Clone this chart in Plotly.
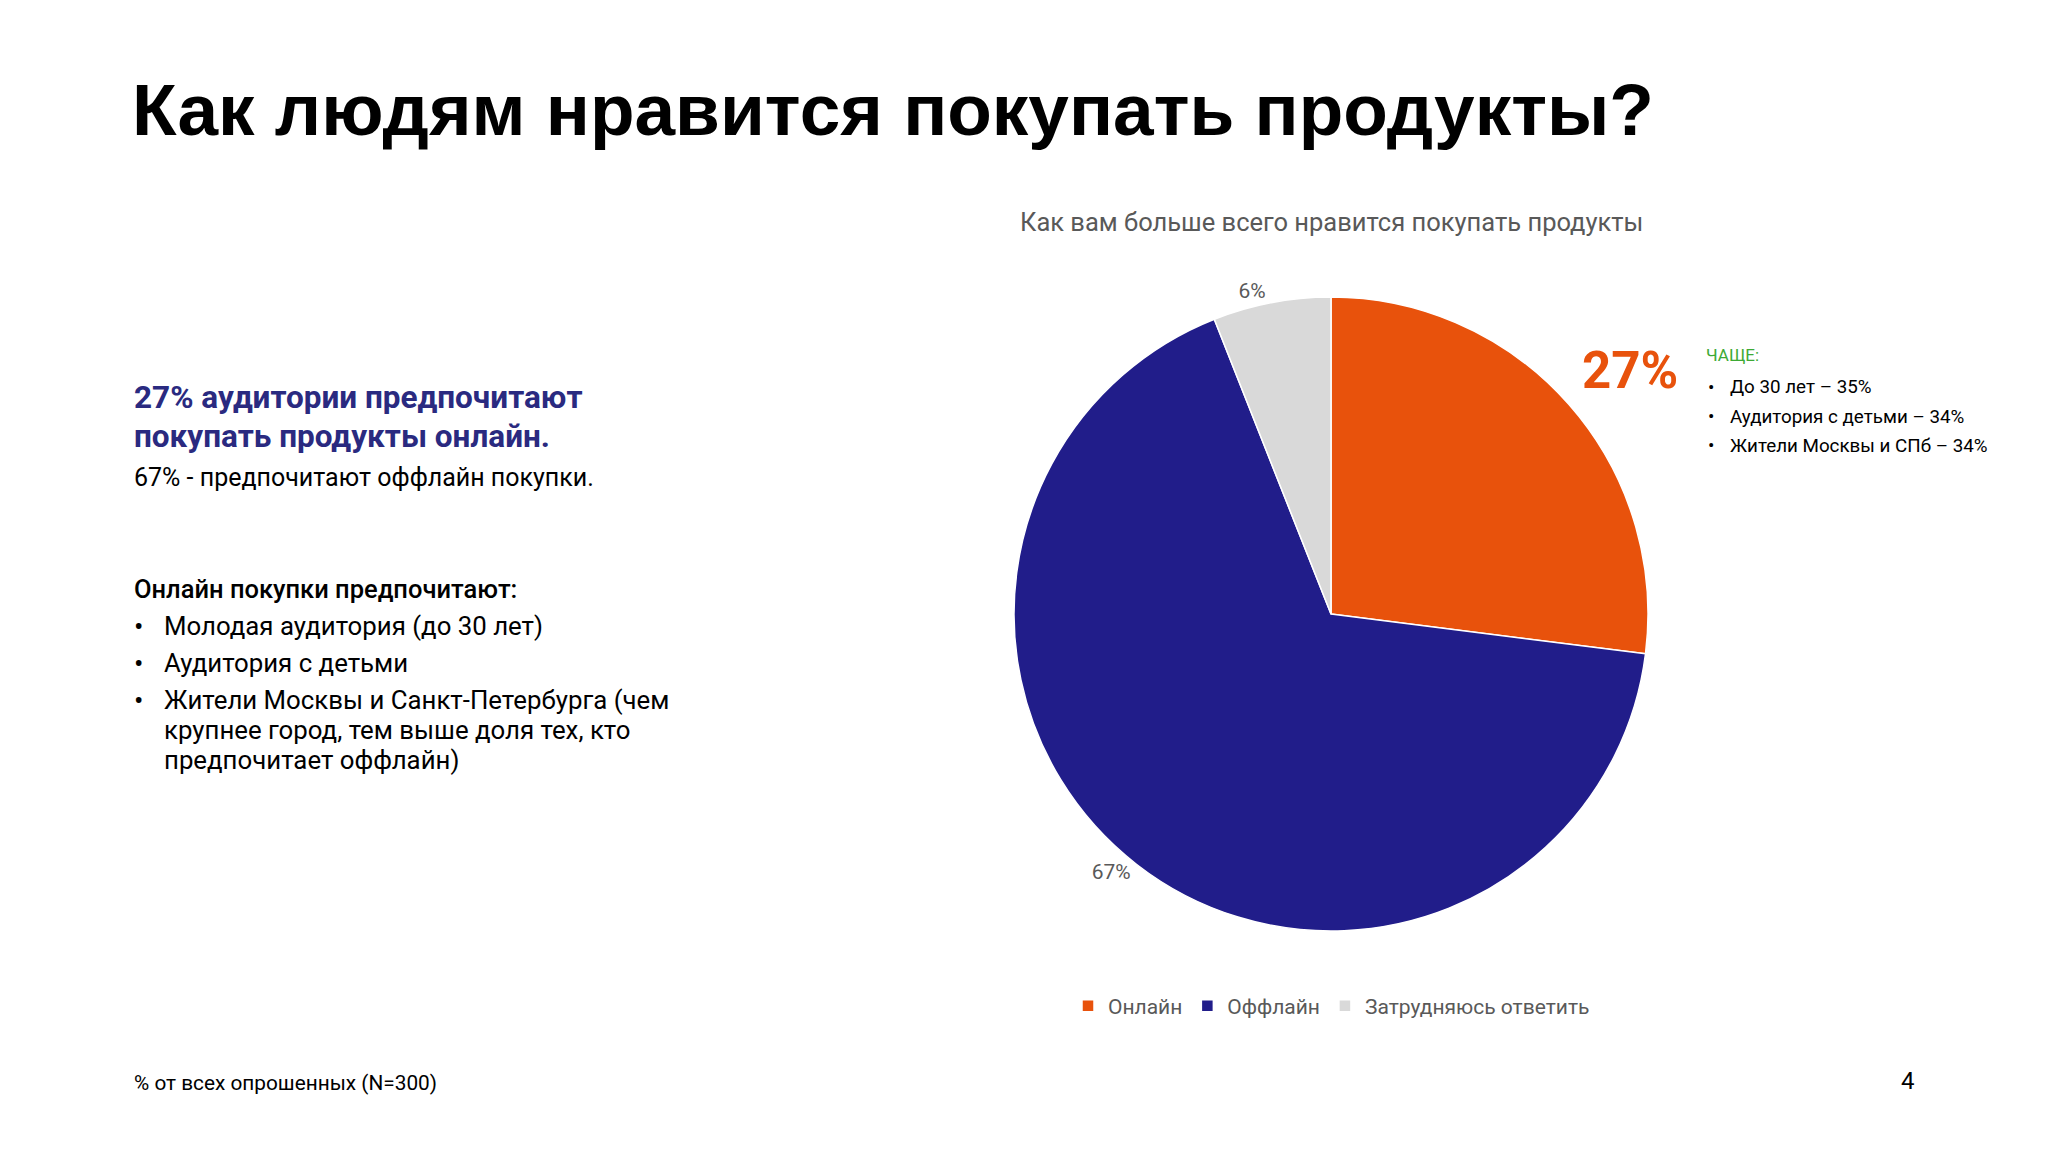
import plotly.graph_objects as go

W, H = 2048, 1152

# ---- data ----
categories = ["Онлайн", "Оффлайн", "Затрудняюсь ответить"]
values = [27, 67, 6]
colors = ["#E8520C", "#211D8A", "#D9D9D9"]
slice_labels = ["", f"{values[1]}%", f"{values[2]}%"]

title_text = "Как людям нравится покупать продукты?"
chart_title = "Как вам больше всего нравится покупать продукты"
highlight_lines = ["27% аудитории предпочитают", "покупать продукты онлайн."]
sub_line = "67% - предпочитают оффлайн покупки."
online_head = "Онлайн покупки предпочитают:"
online_bullets = [
    ["Молодая аудитория (до 30 лет)"],
    ["Аудитория с детьми"],
    ["Жители Москвы и Санкт-Петербурга (чем", "крупнее город, тем выше доля тех, кто", "предпочитает оффлайн)"],
]
more_head = "ЧАЩЕ:"
more_items = ["До 30 лет – 35%", "Аудитория с детьми – 34%", "Жители Москвы и СПб – 34%"]
footnote = "% от всех опрошенных (N=300)"
page_no = "4"

FONT = "Roboto, 'Open Sans', 'Noto Sans', sans-serif"
GRAY = "#595959"
OFF = 8  # page body margin


def px(x):
    return (x - OFF) / W


def py(y):
    return 1 - (y - OFF) / H


fig = go.Figure()

cx, cy, r = 1331, 614, 317
fig.add_trace(go.Pie(
    labels=categories,
    values=values,
    text=slice_labels,
    textinfo="text",
    textposition="outside",
    textfont=dict(family=FONT, size=21, color=GRAY),
    marker=dict(colors=colors, line=dict(color="white", width=1.5)),
    sort=False,
    direction="clockwise",
    rotation=0,
    hole=0,
    domain=dict(x=[px(cx - r), px(cx + r)], y=[py(cy + r), py(cy - r)]),
    showlegend=True,
))

ann = []


def add(text, x, y, size, color="black", weight="normal", xanchor="left", family=FONT):
    ann.append(dict(
        text=text, x=px(x), y=py(y), xref="paper", yref="paper",
        xanchor=xanchor, yanchor="middle", showarrow=False,
        font=dict(family=family, size=size, color=color, weight=weight),
    ))


# main title
add(title_text, 130, 110, 73, weight="bold",
    family="'Liberation Sans Narrow', 'Liberation Sans', Arial, sans-serif")

# chart title
add(chart_title, 1331, 222, 25.5, color=GRAY, xanchor="center")

# left text block
add(highlight_lines[0], 132, 397, 31.5, color="#2A2A80", weight="bold")
add(highlight_lines[1], 132, 437, 31.5, color="#2A2A80", weight="bold")
add(sub_line, 132, 477, 25)
add(online_head, 132, 589, 25.5, weight=500)

y = 626
for item in online_bullets:
    add("•", 132, y, 28)
    for j, line in enumerate(item):
        add(line, 162, y, 25.8)
        y += 30 if j < len(item) - 1 else 37

# right annotation
add(f"{values[0]}%", 1630, 370, 51, color="#E8520C", weight="bold", xanchor="center")
add(more_head, 1704, 355, 17, color="#3DAA35")
for i, t in enumerate(more_items):
    yy = 387 + i * 29.5
    add("•", 1706, yy, 19)
    add(t, 1728, yy, 18.8)

# footnote, page number
add(footnote, 132, 1083, 20.8)
add(page_no, 1908, 1081, 24, xanchor="center")

fig.update_layout(
    width=W, height=H,
    margin=dict(l=0, r=0, t=0, b=0),
    paper_bgcolor="white", plot_bgcolor="white",
    annotations=ann,
    legend=dict(
        orientation="h", x=px(1068), y=py(1006), xanchor="left", yanchor="middle",
        font=dict(family=FONT, size=21, color=GRAY),
        itemwidth=30, traceorder="normal",
    ),
)

fig.write_html("out.html")
